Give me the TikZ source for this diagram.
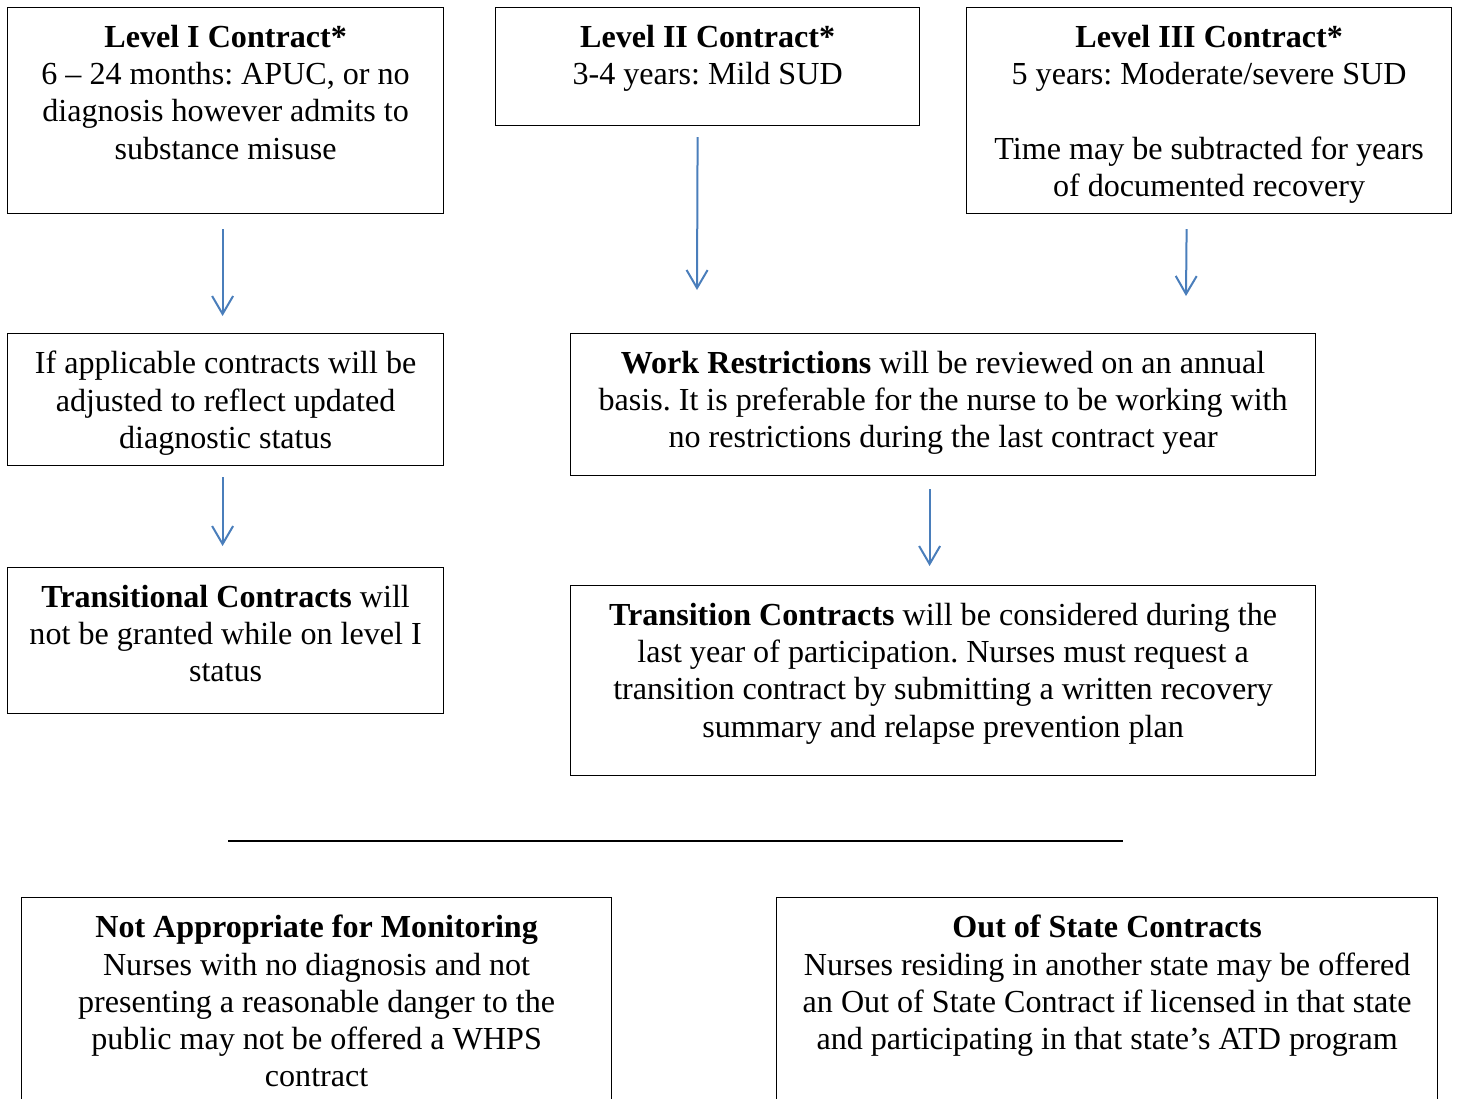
\documentclass[tikz,border=0pt]{standalone}
\usepackage{fontspec}
\setmainfont{Liberation Serif}
\usetikzlibrary{arrows.meta,positioning}
\definecolor{arrowblue}{RGB}{74,126,187}
\frenchspacing

\begin{document}
\begin{tikzpicture}[x=1pt, y=-1pt, node distance=18pt,
    box/.style={draw, line width=1.2pt, inner sep=0pt, anchor=north west},
    txt/.style={align=center, inner sep=0pt, font=\fontsize{32.1}{37.2}\selectfont},
    arr/.style={draw=arrowblue, line width=2pt, -{Straight Barb[length=18pt,width=21pt]}}]

    \useasboundingbox (0,0) rectangle (1458,1099);
    \clip (0,0) rectangle (1458,1099);

    % contract levels
    \node [box, minimum width=436pt, minimum height=206pt] (lvlone) at (7,7) {};
    \node [box, minimum width=424pt, minimum height=118pt] (lvltwo) at (495,7) {};
    \node [box, minimum width=485pt, minimum height=206pt] (lvlthree) at (966,7) {};

    \node [txt, below=of lvlone.north] (lvlonetxt) {\textbf{Level I Contract*}\\ 6 – 24 months: APUC, or no\\ diagnosis however admits to\\ substance misuse};
    \node [txt, below=of lvltwo.north] (lvltwotxt) {\textbf{Level II Contract*}\\ 3-4 years: Mild SUD};
    \node [txt, below=of lvlthree.north] (lvlthreetxt) {\textbf{Level III Contract*}\\ 5 years: Moderate/severe SUD\\[37.2pt] Time may be subtracted for years\\ of documented recovery};

    % middle row
    \node [box, minimum width=436pt, minimum height=132pt] (adjust) at (7,333) {};
    \node [box, minimum width=745pt, minimum height=142pt] (work) at (570,333) {};

    \node [txt, below=of adjust.north] (adjusttxt) {If applicable contracts will be\\ adjusted to reflect updated\\ diagnostic status};
    \node [txt, below=of work.north] (worktxt) {\textbf{Work Restrictions} will be reviewed on an annual\\ basis. It is preferable for the nurse to be working with\\ no restrictions during the last contract year};

    % transition
    \node [box, minimum width=436pt, minimum height=146pt] (transl) at (7,567) {};
    \node [box, minimum width=745pt, minimum height=190pt] (trans) at (570,585) {};

    \node [txt, below=of transl.north] (transltxt) {\textbf{Transitional Contracts} will\\ not be granted while on level I\\ status};
    \node [txt, below=of trans.north] (transtxt) {\textbf{Transition Contracts} will be considered during the\\ last year of participation. Nurses must request a\\ transition contract by submitting a written recovery\\ summary and relapse prevention plan};

    % other contracts
    \node [box, minimum width=590pt, minimum height=240pt] (notappr) at (21,897) {};
    \node [box, minimum width=661pt, minimum height=240pt] (outstate) at (776,897) {};

    \node [txt, below=of notappr.north] (notapprtxt) {\textbf{Not Appropriate for Monitoring}\\ Nurses with no diagnosis and not\\ presenting a reasonable danger to the\\ public may not be offered a WHPS\\ contract};
    \node [txt, below=of outstate.north] (outstatetxt) {\textbf{Out of State Contracts}\\ Nurses residing in another state may be offered\\ an Out of State Contract if licensed in that state\\ and participating in that state’s ATD program};

    % arrows
    \coordinate (lvltwoend) at (697,290);
    \coordinate (lvlthreeend) at (1186,296);
    \draw [arr] ([xshift=-3pt, yshift=-15pt]lvlone.south) -- ([xshift=-3pt, yshift=17pt]adjust.north);
    \draw [arr] ([xshift=-10pt, yshift=-11pt]lvltwo.south) -- (lvltwoend);
    \draw [arr] ([xshift=-22.5pt, yshift=-15pt]lvlthree.south) -- (lvlthreeend);
    \draw [arr] ([xshift=-3pt, yshift=-11pt]adjust.south) -- ([xshift=-3pt, yshift=21pt]transl.north);
    \draw [arr] ([xshift=-13.5pt, yshift=-13pt]work.south) -- ([xshift=-13.5pt, yshift=19pt]trans.north);

    % separator
    \coordinate (rulestart) at (228,841);
    \coordinate (ruleend) at (1123,841);
    \draw [line width=1.6pt] (rulestart) -- (ruleend);
\end{tikzpicture}
\end{document}
